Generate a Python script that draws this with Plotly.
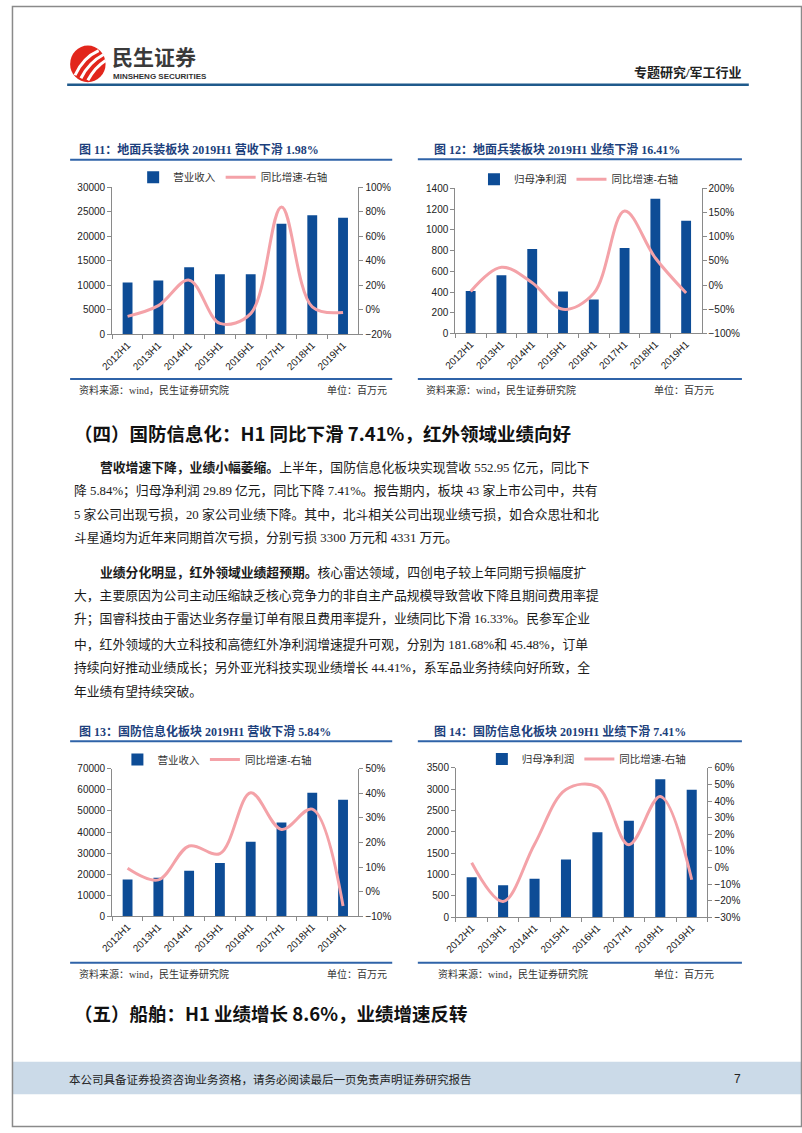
import plotly.graph_objects as go

W, H = 802, 1133


def px(x):
    return x / W


def py(y):
    return 1 - y / H


# ---------------- data ----------------
categories = ["2012H1", "2013H1", "2014H1", "2015H1", "2016H1", "2017H1", "2018H1", "2019H1"]

# 图11 地面兵装 营业收入（百万元）与同比（%）
ground_revenue = [10600, 11000, 13700, 12300, 12300, 22600, 24300, 23800]
ground_revenue_yoy = [-5.2, 3.5, 24.3, -11.0, -3.0, 84.0, 2.5, -1.98]
# 图12 地面兵装 归母净利润与同比
ground_profit = [410, 563, 815, 404, 328, 824, 1300, 1087]
ground_profit_yoy = [-13, 37, 5, -50, -17, 153, 56, -16.41]
# 图13 国防信息化 营业收入与同比
info_revenue = [17500, 18300, 21600, 25300, 35400, 44500, 58700, 55295]
info_revenue_yoy = [9.5, 4.8, 18.6, 15.5, 40.3, 25.3, 33.6, -5.84]
# 图14 国防信息化 归母净利润与同比
info_profit = [935, 750, 900, 1350, 1990, 2260, 3230, 2989]
info_profit_yoy = [2.8, -20.5, 14, 47, 48.5, 13.7, 42.7, -7.41]

titles = [
    "图 11：地面兵装板块 2019H1 营收下滑 1.98%",
    "图 12：地面兵装板块 2019H1 业绩下滑 16.41%",
    "图 13：国防信息化板块 2019H1 营收下滑 5.84%",
    "图 14：国防信息化板块 2019H1 业绩下滑 7.41%",
]
bar_names = ["营业收入", "归母净利润", "营业收入", "归母净利润"]
line_name = "同比增速-右轴"
source_text = "资料来源：wind，民生证券研究院"
unit_text = "单位：百万元"

heading4 = "（四）国防信息化：H1 同比下滑 7.41%，红外领域业绩向好"
heading5 = "（五）船舶：H1 业绩增长 8.6%，业绩增速反转"
para1 = [
    "<b>营收增速下降，业绩小幅萎缩。</b>上半年，国防信息化板块实现营收 552.95 亿元，同比下",
    "降 5.84%；归母净利润 29.89 亿元，同比下降 7.41%。报告期内，板块 43 家上市公司中，共有",
    "5 家公司出现亏损，20 家公司业绩下降。其中，北斗相关公司出现业绩亏损，如合众思壮和北",
    "斗星通均为近年来同期首次亏损，分别亏损 3300 万元和 4331 万元。",
]
para2 = [
    "<b>业绩分化明显，红外领域业绩超预期。</b>核心雷达领域，四创电子较上年同期亏损幅度扩",
    "大，主要原因为公司主动压缩缺乏核心竞争力的非自主产品规模导致营收下降且期间费用率提",
    "升；国睿科技由于雷达业务存量订单有限且费用率提升，业绩同比下滑 16.33%。民参军企业",
    "中，红外领域的大立科技和高德红外净利润增速提升可观，分别为 181.68%和 45.48%，订单",
    "持续向好推动业绩成长；另外亚光科技实现业绩增长 44.41%，系军品业务持续向好所致，全",
    "年业绩有望持续突破。",
]
footer_text = "本公司具备证券投资咨询业务资格，请务必阅读最后一页免责声明证券研究报告"
page_no = "7"

# ---------------- layout specs ----------------
charts = [
    dict(bars=ground_revenue, line=ground_revenue_yoy, xd=(101.7, 351.7), yd=(183.3, 332),
         yl=(0, 30000, 5000), yr=(-20, 100, 20), leg=(123, 173),
         title_xy=(66, 145), rule_y=155.5, rule_x=(59, 386), src_y=388.5, srule_y=377, src_x=(66, 318)),
    dict(bars=ground_profit, line=ground_profit_yoy, xd=(450, 700), yd=(184.3, 331),
         yl=(0, 1400, 200), yr=(-100, 200, 50), leg=(469, 175),
         title_xy=(426, 145), rule_y=155, rule_x=(412, 741), src_y=388.5, srule_y=377, src_x=(418, 650)),
    dict(bars=info_revenue, line=info_revenue_yoy, xd=(101.7, 351.7), yd=(771, 920),
         yl=(0, 70000, 10000), yr=(-10, 50, 10), leg=(107, 761.5),
         title_xy=(66, 733), rule_y=743, rule_x=(59, 386), src_y=978, srule_y=967, src_x=(66, 318)),
    dict(bars=info_profit, line=info_profit_yoy, xd=(450.7, 706), yd=(770, 921),
         yl=(0, 3500, 500), yr=(-30, 60, 10), leg=(477, 761),
         title_xy=(426, 733), rule_y=743, rule_x=(412, 741), src_y=978, srule_y=967, src_x=(430, 650)),
]

BAR_COLOR = "#0D4C96"
LINE_COLOR = "#F4A2A8"
AXIS_COLOR = "#8a8a8a"
TEXT_FONT = "Arial, Liberation Sans, Noto Sans CJK SC"
SERIF_FONT = "Liberation Serif, Times New Roman, Noto Sans CJK SC"
TITLE_COLOR = "#1C3F7C"
RULE_COLOR = "#2F63A8"

fig = go.Figure()
layout = dict(
    width=W, height=H, autosize=False,
    margin=dict(l=0, r=0, t=0, b=0),
    paper_bgcolor="white", plot_bgcolor="rgba(0,0,0,0)",
    bargap=0.68,
    font=dict(family=TEXT_FONT, color="#222", size=10),
)
shapes = []
annotations = []

for i, c in enumerate(charts):
    xa = "x" if i == 0 else f"x{i + 1}"
    yl_id = 2 * i + 1
    yr_id = 2 * i + 2
    yla = "y" if yl_id == 1 else f"y{yl_id}"
    yra = f"y{yr_id}"
    leg = "legend" if i == 0 else f"legend{i + 1}"

    fig.add_trace(go.Bar(x=categories, y=c["bars"], name=bar_names[i], marker=dict(color=BAR_COLOR, line=dict(width=0)),
                         xaxis=xa, yaxis=yla, legend=leg, hoverinfo="skip"))
    fig.add_trace(go.Scatter(x=categories, y=c["line"], name=line_name, mode="lines",
                             line=dict(color=LINE_COLOR, width=3, shape="spline", smoothing=1.0),
                             xaxis=xa, yaxis=yra, legend=leg, hoverinfo="skip"))

    xkey = "xaxis" if i == 0 else f"xaxis{i + 1}"
    ylkey = "yaxis" if yl_id == 1 else f"yaxis{yl_id}"
    yrkey = f"yaxis{yr_id}"
    layout[xkey] = dict(domain=[px(c["xd"][0]), px(c["xd"][1])], anchor=yla, type="category",
                        showline=True, linecolor=AXIS_COLOR, linewidth=1,
                        ticks="outside", tickson="boundaries", ticklen=4, tickcolor=AXIS_COLOR,
                        tickangle=-45, tickfont=dict(size=10, color="#222"),
                        showgrid=False, zeroline=False, fixedrange=True)
    layout[ylkey] = dict(domain=[py(c["yd"][1]), py(c["yd"][0])], anchor=xa,
                         range=[c["yl"][0], c["yl"][1]], dtick=c["yl"][2], tick0=0, tickformat="d",
                         showline=True, linecolor=AXIS_COLOR, linewidth=1,
                         ticks="outside", ticklen=4, tickcolor=AXIS_COLOR,
                         tickfont=dict(size=10, color="#222"),
                         showgrid=False, zeroline=False, fixedrange=True)
    layout[yrkey] = dict(overlaying=yla, side="right", anchor=xa,
                         range=[c["yr"][0], c["yr"][1]], dtick=c["yr"][2], tick0=0, ticksuffix="%",
                         tickformat="d",
                         showline=True, linecolor=AXIS_COLOR, linewidth=1,
                         ticks="outside", ticklen=4, tickcolor=AXIS_COLOR,
                         tickfont=dict(size=10, color="#222"),
                         showgrid=False, zeroline=False, fixedrange=True)
    layout[leg] = dict(orientation="h", x=px(c["leg"][0]), y=py(c["leg"][1]),
                       xanchor="left", yanchor="middle", bgcolor="rgba(0,0,0,0)",
                       font=dict(size=10.5, color="#333", family=TEXT_FONT),
                       itemwidth=30, traceorder="normal")

    # title, rules, source
    annotations.append(dict(text="<b>" + titles[i] + "</b>", x=px(c["title_xy"][0]), y=py(c["title_xy"][1]),
                            xref="paper", yref="paper", xanchor="left", yanchor="middle", showarrow=False,
                            font=dict(size=12, color=TITLE_COLOR, family=SERIF_FONT)))
    shapes.append(dict(type="line", xref="paper", yref="paper",
                       x0=px(c["rule_x"][0]), x1=px(c["rule_x"][1]), y0=py(c["rule_y"]), y1=py(c["rule_y"]),
                       line=dict(color=RULE_COLOR, width=2)))
    shapes.append(dict(type="line", xref="paper", yref="paper",
                       x0=px(c["rule_x"][0]), x1=px(c["rule_x"][1]), y0=py(c["srule_y"]), y1=py(c["srule_y"]),
                       line=dict(color=RULE_COLOR, width=2)))
    annotations.append(dict(text=source_text, x=px(c["src_x"][0]), y=py(c["src_y"]),
                            xref="paper", yref="paper", xanchor="left", yanchor="middle", showarrow=False,
                            font=dict(size=10, color="#333", family=SERIF_FONT)))
    annotations.append(dict(text=unit_text, x=px(c["src_x"][1]), y=py(c["src_y"]),
                            xref="paper", yref="paper", xanchor="left", yanchor="middle", showarrow=False,
                            font=dict(size=10, color="#333", family=SERIF_FONT)))

# ---------------- page decoration ----------------
# border
shapes.append(dict(type="rect", xref="paper", yref="paper", x0=0.0006, x1=0.9994, y0=0.0005, y1=0.9995,
                   line=dict(color="#8a8a8a", width=1.5), fillcolor="rgba(0,0,0,0)"))
# header logo
shapes.append(dict(type="circle", xref="paper", yref="paper", x0=px(59), x1=px(95), y0=py(77), y1=py(40),
                   fillcolor="#E2261C", line=dict(width=0)))
for (a, b, cx, cy, d, e) in [(64, 70, 72, 52, 88, 45), (70, 73, 78, 57, 93, 49), (77, 75, 84, 62, 95, 55)]:
    shapes.append(dict(type="path", xref="paper", yref="paper",
                       path=f"M {px(a)},{py(b)} Q {px(cx)},{py(cy)} {px(d)},{py(e)}",
                       line=dict(color="white", width=3)))
annotations.append(dict(text="<b>民生证券</b>", x=px(99), y=py(51), xref="paper", yref="paper",
                        xanchor="left", yanchor="middle", showarrow=False,
                        font=dict(size=21, color="#3a3a3a", family="Noto Sans CJK SC")))
annotations.append(dict(text="<b>MINSHENG SECURITIES</b>", x=px(101), y=py(71.5), xref="paper", yref="paper",
                        xanchor="left", yanchor="middle", showarrow=False,
                        font=dict(size=8, color="#333", family="Liberation Sans Narrow, Arial, Liberation Sans")))
annotations.append(dict(text="<b>专题研究/军工行业</b>", x=px(743), y=py(67), xref="paper", yref="paper",
                        xanchor="right", yanchor="middle", showarrow=False,
                        font=dict(size=13, color="#222", family=SERIF_FONT)))
shapes.append(dict(type="line", xref="paper", yref="paper", x0=px(56), x1=px(748), y0=py(79.5), y1=py(79.5),
                   line=dict(color="#1F5A8C", width=2.5)))

# headings and body
annotations.append(dict(text="<b>" + heading4 + "</b>", x=px(61), y=py(432), xref="paper", yref="paper",
                        xanchor="left", yanchor="middle", showarrow=False,
                        font=dict(size=18.5, color="#111", family="Noto Sans CJK SC")))
annotations.append(dict(text="<b>" + heading5 + "</b>", x=px(61), y=py(1018), xref="paper", yref="paper",
                        xanchor="left", yanchor="middle", showarrow=False,
                        font=dict(size=18.5, color="#111", family="Noto Sans CJK SC")))
p1_y = [466.7, 490, 514.3, 537.7]
p2_y = [572.7, 596, 620, 645, 669.3, 693.3]
for lines, ys in [(para1, p1_y), (para2, p2_y)]:
    for k, (t, yy) in enumerate(zip(lines, ys)):
        annotations.append(dict(text=t, x=px(87 if k == 0 else 61), y=py(yy), xref="paper", yref="paper",
                                xanchor="left", yanchor="middle", showarrow=False,
                                font=dict(size=12.8, color="#1a1a1a", family=SERIF_FONT)))

# footer
shapes.append(dict(type="rect", xref="paper", yref="paper", x0=0, x1=1, y0=py(1100), y1=py(1067),
                   fillcolor="#CBDAE8", line=dict(width=0), layer="below"))
annotations.append(dict(text=footer_text, x=px(56), y=py(1084), xref="paper", yref="paper",
                        xanchor="left", yanchor="middle", showarrow=False,
                        font=dict(size=11.5, color="#222", family="Noto Sans CJK SC")))
annotations.append(dict(text=page_no, x=px(742), y=py(1084), xref="paper", yref="paper",
                        xanchor="right", yanchor="middle", showarrow=False,
                        font=dict(size=12, color="#222", family="Arial, Liberation Sans")))

layout["shapes"] = shapes
layout["annotations"] = annotations
fig.update_layout(**layout)

post = (
    "document.documentElement.style.margin='0px';"
    "document.body.style.margin='0px';document.body.style.padding='0px';"
    "var gd=document.getElementsByClassName('plotly-graph-div')[0];"
    "if(gd){gd.style.position='absolute';gd.style.left='0px';gd.style.top='0px';}"
)
fig.write_html("out.html", include_plotlyjs=True,
               config={"displayModeBar": False, "staticPlot": True},
               post_script=post)
